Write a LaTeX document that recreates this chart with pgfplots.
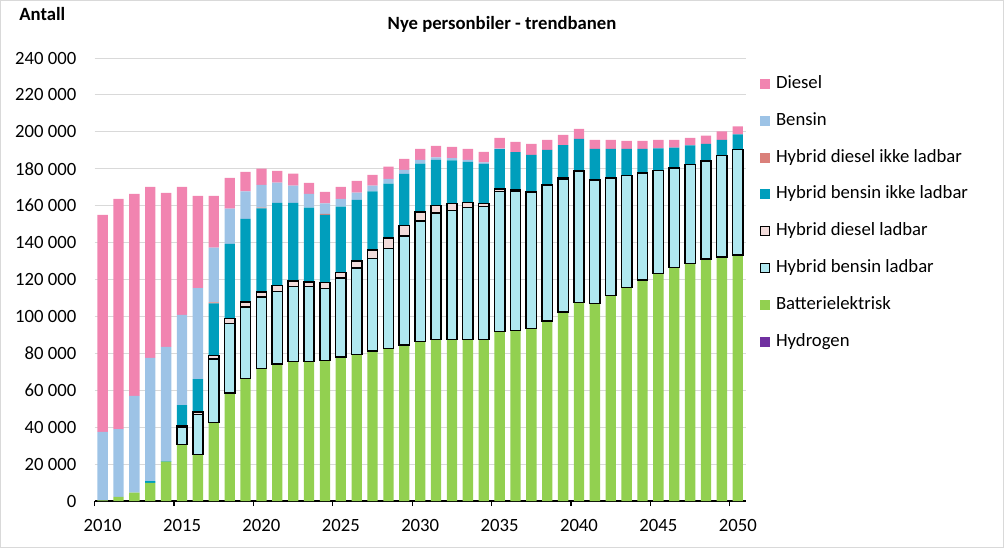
\documentclass[border=0pt]{standalone}
\usepackage{fontspec}
\setmainfont{Carlito}
\usepackage{pgfplots}
\usepackage{pgfplotstable}
\pgfplotsset{compat=1.18}
\definecolor{cdiesel}{RGB}{241,132,176}
\definecolor{cbensin}{RGB}{157,195,230}
\definecolor{chevd}{RGB}{218,128,122}
\definecolor{chevb}{RGB}{0,158,188}
\definecolor{cphevd}{RGB}{242,220,219}
\definecolor{cphevb}{RGB}{176,232,240}
\definecolor{cbev}{RGB}{146,208,80}
\definecolor{chyd}{RGB}{112,48,160}
\definecolor{cgrid}{RGB}{217,217,217}
\pgfplotstableread{
year H2 BEV PHEVb PHEVd HEVb HEVd Bensin Diesel
2010 0 400 0 0 0 0 37000 117600
2011 0 2300 0 0 0 0 36700 124700
2012 0 4500 0 0 0 0 52400 109500
2013 0 9800 0 0 1000 0 66700 92700
2014 0 21300 0 0 300 0 61900 83500
2015 0 30700 9400 500 11400 0 48800 69400
2016 0 25300 21700 1100 18000 0 49200 50000
2017 0 42600 34200 2000 28300 500 29700 28000
2018 0 58400 37900 2700 40300 0 19100 16700
2019 0 66500 38500 2700 45100 0 14900 10600
2020 0 71900 38500 2700 45400 500 12300 8800
2021 0 74100 39400 3200 44800 0 11000 6400
2022 0 75500 40700 2900 42400 0 9400 6500
2023 0 75700 40500 2500 40300 0 7400 6000
2024 0 76200 39000 3100 36700 500 5800 6200
2025 0 77900 42800 3200 35600 0 4200 6500
2026 0 79500 46600 3800 33200 0 4000 6300
2027 0 81300 50200 4500 31700 0 3200 5800
2028 0 82600 54300 5500 29600 0 2500 6700
2029 0 84400 59100 5700 28000 0 2200 6000
2030 0 86500 65300 4700 26300 0 2000 6000
2031 0 87400 68500 4200 24700 0 1300 6300
2032 0 87400 70100 3700 23300 0 1200 6200
2033 0 87400 71600 2700 22000 0 1100 6000
2034 0 87400 72100 1800 21400 0 700 5800
2035 0 91800 76000 1100 21700 0 300 5800
2036 0 92300 75600 500 20600 0 0 5600
2037 0 93400 74100 300 19700 0 0 6000
2038 0 97400 73900 0 18900 0 0 5500
2039 0 102300 72100 500 17900 0 0 5600
2040 0 107500 71400 0 17300 0 0 5400
2041 0 107100 66900 0 16800 0 0 4900
2042 0 111300 63800 0 15700 0 0 4900
2043 0 115800 60500 0 14500 0 0 4300
2044 0 119600 58000 0 13200 0 0 4300
2045 0 123200 55800 0 12000 0 0 4700
2046 0 126600 53700 0 11200 0 0 4200
2047 0 128600 53800 0 10200 0 0 4100
2048 0 131000 53300 0 9200 0 0 4500
2049 0 132100 55100 0 8500 0 0 4500
2050 0 133200 57100 0 8300 0 0 4300
}\data
\pgfplotsset{
  base/.style={
    scale only axis, width=325.5pt, height=221.5pt,
    at={(47.35pt,23.5pt)}, anchor=south west,
    xmin=2009.5, xmax=2050.5, ymin=0, ymax=240000,
    ybar stacked, bar width=0.65,
  },
}
\begin{document}
\begin{tikzpicture}[font=\fontsize{9.35}{11}\selectfont]
\path[use as bounding box] (0,0) rectangle (502pt,274pt);
\draw[cgrid, line width=0.5pt] (0.25pt,0.25pt) rectangle (501.75pt,273.75pt);
\node[anchor=base, font=\fontsize{9.35}{11}\selectfont\bfseries] at (251pt,259.5pt) {Nye personbiler - trendbanen};
\node[anchor=base west, inner sep=0pt, font=\fontsize{9.35}{11}\selectfont\bfseries] at (9.5pt,263.6pt) {Antall};
\begin{axis}[base,
  axis x line*=bottom, axis y line*=left,
  y axis line style={draw=none},
  x axis line style={black, line width=0.6pt},
  ytick={0,20000,...,240000},
  ymajorgrids, grid style={cgrid, line width=0.5pt},
  ytick style={draw=none},
  scaled y ticks=false,
  yticklabel style={xshift=-5.7pt, /pgf/number format/fixed, /pgf/number format/precision=0, /pgf/number format/1000 sep={\ }, /pgf/number format/assume math mode=true},
  xtick={2010,2015,...,2050},
  xticklabels={2010,2015,2020,2025,2030,2035,2040,2045,2050},
  major tick length=0pt,
  xticklabel style={yshift=-5.5pt},
  extra x ticks={2009.5,2014.5,2019.5,2024.5,2029.5,2034.5,2039.5,2044.5,2049.5},
  extra x tick labels={},
  extra x tick style={major tick length=2.5pt, tick align=outside, tick style={black, line width=0.6pt}},
  reverse legend,
  legend style={draw=none, fill=none, at={(1.022,0.961)}, anchor=north west,
    inner sep=0pt, outer sep=0pt, row sep=9.6pt,
    nodes={text height=6.6pt, text depth=2.2pt, inner sep=0pt, outer sep=0pt},
    /tikz/every odd column/.append style={column sep=3pt}},
  legend cell align=left,
  legend image code/.code={\fill[#1] (0pt,-2.5pt) rectangle (5pt,2.5pt);},
]
\addplot[fill=chyd, draw=none] table[x=year,y=H2]{\data};
\addlegendentry{Hydrogen}
\addplot[fill=cbev, draw=none] table[x=year,y=BEV]{\data};
\addlegendentry{Batterielektrisk}
\addplot[fill=cphevb, draw=none, legend image code/.code={\draw[fill=cphevb,draw=black,line width=0.6pt] (0.3pt,-2.2pt) rectangle (4.7pt,2.2pt);}] table[x=year,y=PHEVb]{\data};
\addlegendentry{Hybrid bensin ladbar}
\addplot[fill=cphevd, draw=none, legend image code/.code={\draw[fill=cphevd,draw=black,line width=0.6pt] (0.3pt,-2.2pt) rectangle (4.7pt,2.2pt);}] table[x=year,y=PHEVd]{\data};
\addlegendentry{Hybrid diesel ladbar}
\addplot[fill=chevb, draw=none] table[x=year,y=HEVb]{\data};
\addlegendentry{Hybrid bensin ikke ladbar}
\addplot[fill=chevd, draw=none] table[x=year,y=HEVd]{\data};
\addlegendentry{Hybrid diesel ikke ladbar}
\addplot[fill=cbensin, draw=none] table[x=year,y=Bensin]{\data};
\addlegendentry{Bensin}
\addplot[fill=cdiesel, draw=none] table[x=year,y=Diesel]{\data};
\addlegendentry{Diesel}
\end{axis}
\begin{axis}[base, hide axis]
\addplot[fill=none, draw=none, restrict x to domain=2014.6:2050.5] table[x=year,y=BEV]{\data};
\addplot[fill=none, draw=black, line width=0.75pt, restrict x to domain=2014.6:2050.5] table[x=year,y=PHEVb]{\data};
\addplot[fill=none, draw=black, line width=0.75pt, restrict x to domain=2014.6:2050.5] table[x=year,y=PHEVd]{\data};
\end{axis}
\end{tikzpicture}
\end{document}
